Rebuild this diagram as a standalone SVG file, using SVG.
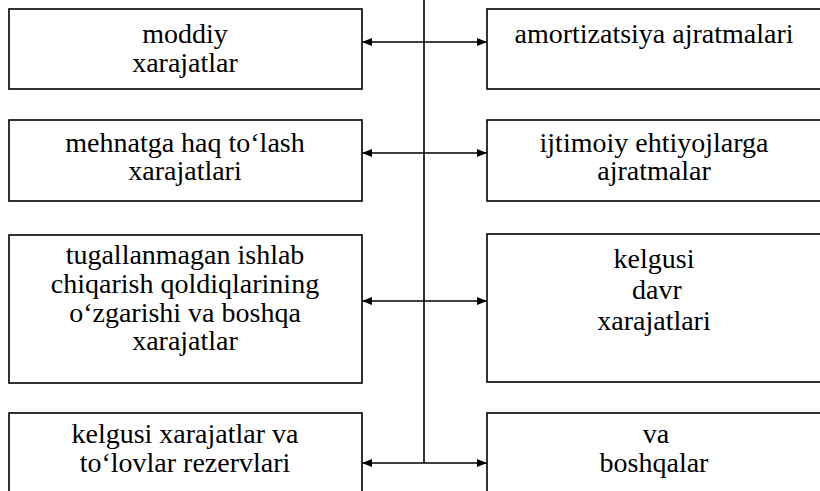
<svg xmlns="http://www.w3.org/2000/svg" width="820" height="491" viewBox="0 0 820 491">
<defs>
<style>
.box{fill:#fff;stroke:#000;stroke-width:1.6}
.t{font-family:'Liberation Serif','DejaVu Serif',serif;font-size:28px;fill:#000;text-anchor:middle}
.c{stroke:#000;stroke-width:1.6;fill:none}
</style>
<marker id="ah" viewBox="0 0 10 8" refX="10" refY="4" markerWidth="10" markerHeight="8" markerUnits="userSpaceOnUse" orient="auto-start-reverse">
<path d="M0,0 L10,4 L0,8 Z" fill="#000"/>
</marker>
</defs>
<rect width="820" height="491" fill="#fff"/>
<g id="connectors">
<line class="c" x1="424" y1="0" x2="424" y2="463"/>
<line class="c" x1="362" y1="42" x2="487" y2="42" marker-start="url(#ah)" marker-end="url(#ah)"/>
<line class="c" x1="362" y1="153" x2="487" y2="153" marker-start="url(#ah)" marker-end="url(#ah)"/>
<line class="c" x1="362" y1="301" x2="487" y2="301" marker-start="url(#ah)" marker-end="url(#ah)"/>
<line class="c" x1="362" y1="463" x2="487" y2="463" marker-start="url(#ah)" marker-end="url(#ah)"/>
</g>
<g id="n-moddiy">
<rect class="box" x="9" y="9" width="353" height="80"/>
<text class="t" font-family="Liberation Serif, DejaVu Serif, serif" x="185" y="43">moddiy</text>
<text class="t" font-family="Liberation Serif, DejaVu Serif, serif" x="185" y="72">xarajatlar</text>
</g>
<g id="n-mehnat">
<rect class="box" x="9" y="120" width="353" height="81"/>
<text class="t" font-family="Liberation Serif, DejaVu Serif, serif" x="185" y="152">mehnatga haq to‘lash</text>
<text class="t" font-family="Liberation Serif, DejaVu Serif, serif" x="185" y="180">xarajatlari</text>
</g>
<g id="n-tugallanmagan">
<rect class="box" x="9" y="235" width="353" height="148"/>
<text class="t" font-family="Liberation Serif, DejaVu Serif, serif" x="185" y="264">tugallanmagan ishlab</text>
<text class="t" font-family="Liberation Serif, DejaVu Serif, serif" x="185" y="293">chiqarish qoldiqlarining</text>
<text class="t" font-family="Liberation Serif, DejaVu Serif, serif" x="185" y="322">o‘zgarishi va boshqa</text>
<text class="t" font-family="Liberation Serif, DejaVu Serif, serif" x="185" y="350">xarajatlar</text>
</g>
<g id="n-rezerv">
<rect class="box" x="9" y="413" width="353" height="90"/>
<text class="t" font-family="Liberation Serif, DejaVu Serif, serif" x="185" y="443">kelgusi xarajatlar va</text>
<text class="t" font-family="Liberation Serif, DejaVu Serif, serif" x="185" y="472">to‘lovlar rezervlari</text>
</g>
<g id="n-amortizatsiya">
<rect class="box" x="487" y="9" width="345" height="80"/>
<text class="t" font-family="Liberation Serif, DejaVu Serif, serif" x="654" y="43">amortizatsiya ajratmalari</text>
</g>
<g id="n-ijtimoiy">
<rect class="box" x="487" y="120" width="345" height="81"/>
<text class="t" font-family="Liberation Serif, DejaVu Serif, serif" x="654" y="152">ijtimoiy ehtiyojlarga</text>
<text class="t" font-family="Liberation Serif, DejaVu Serif, serif" x="654" y="180">ajratmalar</text>
</g>
<g id="n-kelgusi">
<rect class="box" x="487" y="234" width="345" height="148"/>
<text class="t" font-family="Liberation Serif, DejaVu Serif, serif" x="654" y="268">kelgusi</text>
<text class="t" font-family="Liberation Serif, DejaVu Serif, serif" x="657" y="299">davr</text>
<text class="t" font-family="Liberation Serif, DejaVu Serif, serif" x="654" y="330">xarajatlari</text>
</g>
<g id="n-boshqalar">
<rect class="box" x="487" y="413" width="345" height="90"/>
<text class="t" font-family="Liberation Serif, DejaVu Serif, serif" x="656" y="443">va</text>
<text class="t" font-family="Liberation Serif, DejaVu Serif, serif" x="654" y="472">boshqalar</text>
</g>
</svg>
